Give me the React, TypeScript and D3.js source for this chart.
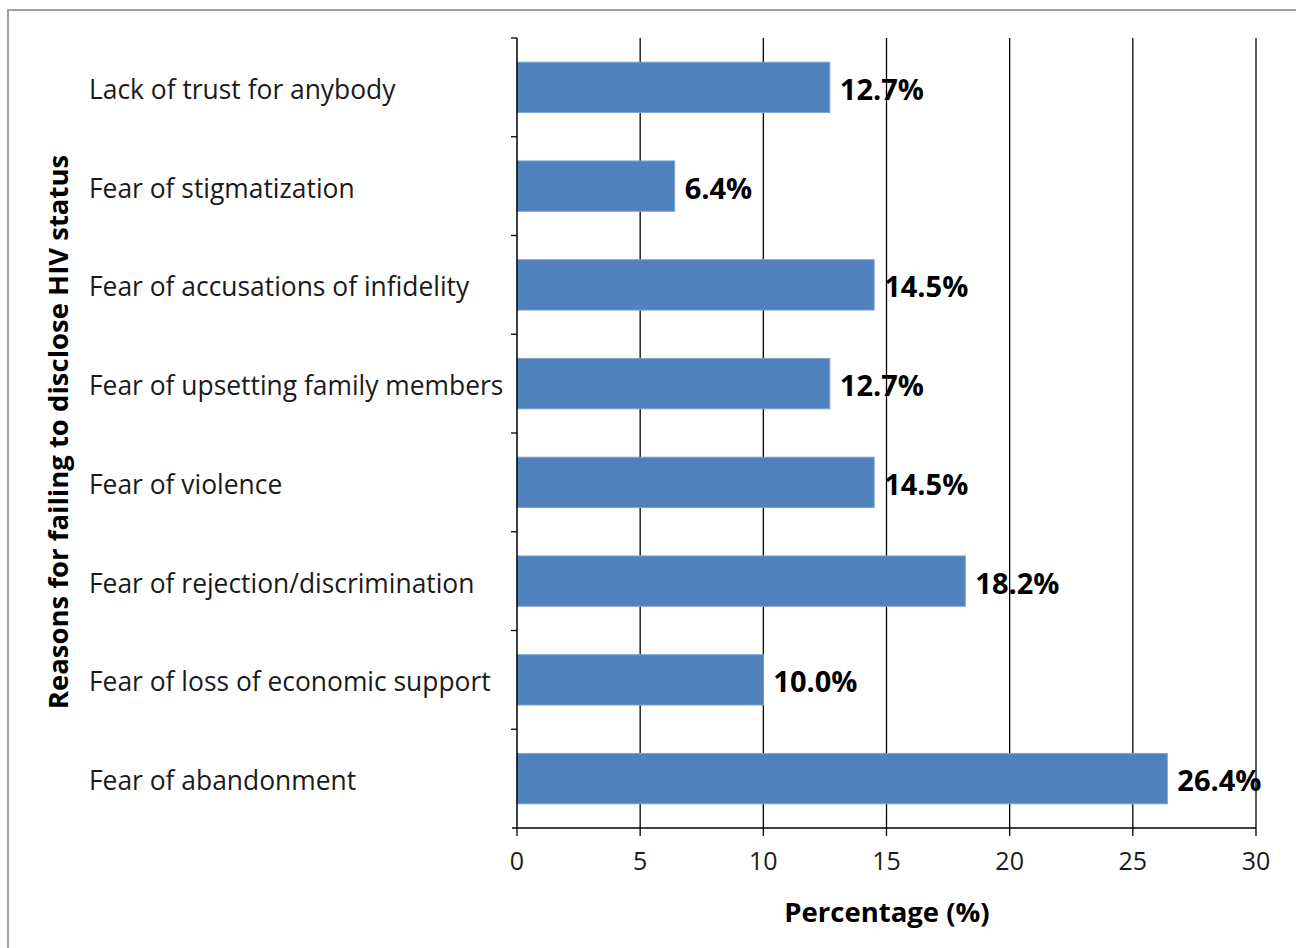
import React from "react";
import * as d3 from "d3";

const categories = [
  "Lack of trust for anybody",
  "Fear of stigmatization",
  "Fear of accusations of infidelity",
  "Fear of upsetting family members",
  "Fear of violence",
  "Fear of rejection/discrimination",
  "Fear of loss of economic support",
  "Fear of abandonment",
];
const values = [12.7, 6.4, 14.5, 12.7, 14.5, 18.2, 10.0, 26.4];
const xTicks = [0, 5, 10, 15, 20, 25, 30];
const xTitle = "Percentage (%)";
const yTitle = "Reasons for failing to disclose HIV status";

const W = 1296;
const H = 948;
const left = 517;
const right = 1256;
const top = 38;
const bottom = 828;
const FONT = "'Open Sans', Lato, sans-serif";

export default function App() {
  const x = d3.scaleLinear().domain([0, 30]).range([left, right]);
  const y = d3.scaleBand<string>().domain(categories).range([top, bottom]).paddingInner(0.49).paddingOuter(0.245);
  const band = d3.scaleBand<string>().domain(categories).range([top, bottom]);
  return (
    <svg width={W} height={H} style={{ position: "absolute", left: 0, top: 0, background: "#fff" }}>
      <rect x={8} y={10} width={W} height={H} fill="#fff" stroke="#a0a0a0" strokeWidth={2} />
      {xTicks.slice(1).map((t) => (
        <line key={"g" + t} x1={x(t)} x2={x(t)} y1={top} y2={bottom} stroke="#000" strokeWidth={1.3} />
      ))}
      {categories.map((c, i) => (
        <rect key={c} x={x(0)} y={y(c)!} width={x(values[i]) - x(0)} height={y.bandwidth()} fill="#4f81bd" stroke="#7ea3cf" strokeWidth={1} />
      ))}
      <line x1={left} x2={left} y1={top} y2={bottom} stroke="#000" strokeWidth={1.5} />
      <line x1={left - 5} x2={right} y1={bottom} y2={bottom} stroke="#000" strokeWidth={1.5} />
      {categories.map((c) => (
        <line key={"yt" + c} x1={left - 6} x2={left} y1={band(c)!} y2={band(c)!} stroke="#000" strokeWidth={1.3} />
      ))}
      {xTicks.map((t) => (
        <line key={"xt" + t} x1={x(t)} x2={x(t)} y1={bottom} y2={bottom + 8} stroke="#000" strokeWidth={1.3} />
      ))}
      {xTicks.map((t) => (
        <text key={"xl" + t} x={x(t)} y={860} textAnchor="middle" dominantBaseline="central" fontFamily={FONT} fontSize={25} fill="#1a1a1a">
          {t}
        </text>
      ))}
      {categories.map((c) => (
        <text key={"cl" + c} x={89} y={y(c)! + y.bandwidth() / 2 + 1.5} dominantBaseline="central" fontFamily={FONT} fontSize={26.4} fill="#1a1a1a">
          {c}
        </text>
      ))}
      {categories.map((c, i) => (
        <text key={"vl" + c} x={x(values[i]) + 10} y={y(c)! + y.bandwidth() / 2 + 1} dominantBaseline="central" fontFamily={FONT} fontSize={29} fontWeight="bold" fill="#000">
          {values[i].toFixed(1) + "%"}
        </text>
      ))}
      <text x={887} y={911} textAnchor="middle" dominantBaseline="central" fontFamily={FONT} fontSize={27.5} fontWeight="bold" fill="#000">
        {xTitle}
      </text>
      <text transform={`translate(57,432) rotate(-90)`} textAnchor="middle" dominantBaseline="central" fontFamily={FONT} fontSize={27.5} fontWeight="bold" fill="#000">
        {yTitle}
      </text>
    </svg>
  );
}
